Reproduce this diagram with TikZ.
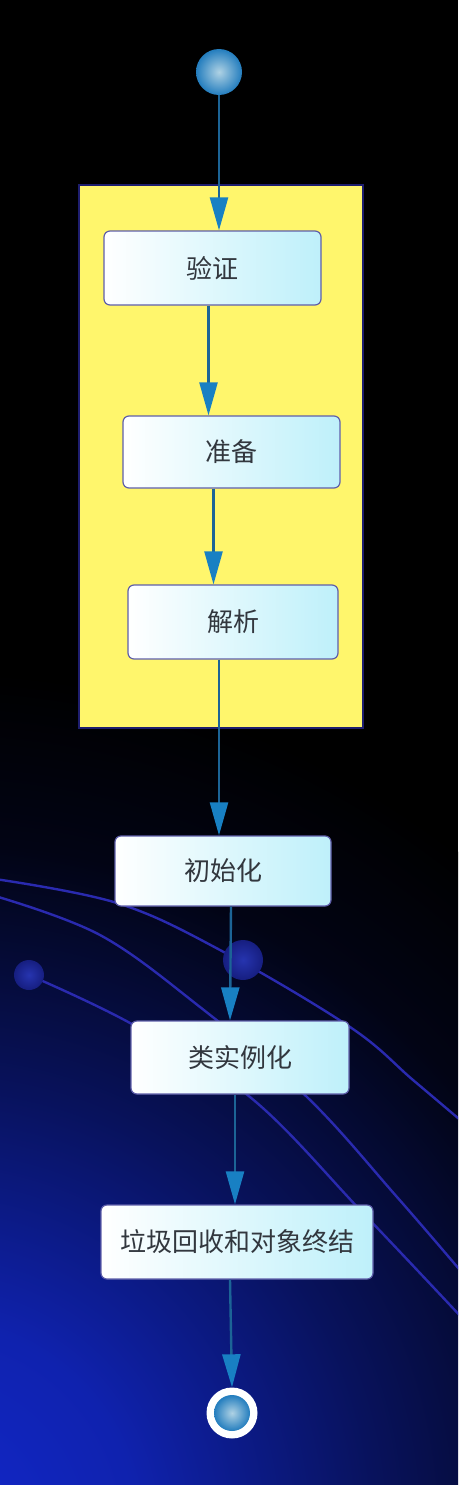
\documentclass[tikz,border=0pt]{standalone}
\usepackage{fontspec}
\newfontfamily\cjk{Noto Sans CJK SC}
\usetikzlibrary{arrows.meta,calc}
\definecolor{glow}{RGB}{18,40,205}
\definecolor{arcblue}{RGB}{42,42,175}
\definecolor{dotin}{RGB}{38,52,175}
\definecolor{dotout}{RGB}{22,30,128}
\definecolor{arrowblue}{RGB}{24,128,195}
\definecolor{lineblue}{RGB}{28,100,150}
\definecolor{boxcyan}{RGB}{190,240,250}
\definecolor{boxedge}{RGB}{95,95,170}
\definecolor{txtgray}{RGB}{50,55,62}
\definecolor{pkgyellow}{RGB}{255,246,108}
\definecolor{pkgedge}{RGB}{30,30,110}
\definecolor{ballin}{RGB}{175,210,228}
\definecolor{ballout}{RGB}{35,125,190}
\pgfdeclareradialshading{glowshade}{\pgfpoint{0bp}{0bp}}{%
  color(0bp)=(glow); color(6bp)=(glow!85!black); color(13bp)=(glow!45!black);
  color(20bp)=(glow!10!black); color(25bp)=(black); color(50bp)=(black)}
\begin{document}
\begin{tikzpicture}[x=1pt,y=-1pt,
  stepbox/.style={draw=boxedge, line width=1.2pt, rounded corners=6pt,
    left color=white, right color=boxcyan, text=txtgray,
    font=\cjk\fontsize{26pt}{30pt}\selectfont, inner sep=0pt, minimum height=73pt},
  flow/.style={draw=lineblue, line width=2.4pt,
    -{Triangle[length=33pt,width=18pt,color=arrowblue]}},
  arcline/.style={draw=arcblue, line width=2.4pt},
  ballnode/.style={circle, inner sep=0pt, inner color=ballin, outer color=ballout}]
\useasboundingbox (0,0) rectangle (458,1485);
% background
\fill[black] (0,0) rectangle (458,1485);
\begin{scope}
  \clip (0,0) rectangle (458,1485);
  \shade[shading=glowshade] (-70,1530) circle (860pt);
  % decorative arcs
  \draw[arcline] plot[smooth, tension=0.6] coordinates {(-5,879) (117,903) (220,950) (350,1027) (413,1080) (465,1124)};
  \draw[arcline] plot[smooth, tension=0.6] coordinates {(-5,896) (100,935) (200,1007) (307,1097) (397,1197) (465,1276)};
  \draw[arcline] plot[smooth, tension=0.6] coordinates {(29,975) (130,1023) (250,1097) (363,1213) (465,1321)};
  \shade[inner color=dotin, outer color=dotout] (243,960) circle (20pt);
  \shade[inner color=dotin, outer color=dotout] (29,975) circle (15pt);
\end{scope}
% package frame
\node (frame) [draw=pkgedge, line width=2.5pt, fill=pkgyellow, minimum width=284pt, minimum height=543pt, inner sep=0pt] at (221,456.5) {};
% start / end
\node (s) [ballnode, minimum size=46pt] at (219,72) {};
\node (e) [circle, fill=white, minimum size=51pt, inner sep=0pt] at (232,1413) {};
\node (ein) [ballnode, minimum size=36pt] at (e.center) {};
% activity boxes
\node (v) [stepbox, minimum width=217pt, minimum height=74pt] at (212.5,268) {验证};
\node (p) [stepbox, minimum width=217pt, minimum height=72pt] at (231.5,452) {准备};
\node (j) [stepbox, minimum width=210pt, minimum height=74pt] at (233,622) {解析};
\node (c) [stepbox, minimum width=216pt, minimum height=70pt] at (223,871) {初始化};
\node (l) [stepbox, minimum width=218pt, minimum height=73pt] at (240,1057.5) {类实例化};
\node (g) [stepbox, minimum width=272pt, minimum height=74pt] at (237,1242) {垃圾回收和对象终结};
% connectors
\draw[flow] (s.south) -- ([xshift=6.5pt]v.north);
\draw[flow] ([xshift=-4pt]v.south) -- ([xshift=-23pt]p.north);
\draw[flow] ([xshift=-18pt]p.south) -- ([xshift=-19.5pt]j.north);
\draw[flow] ([xshift=-14pt]j.south) -- ([xshift=-4pt]c.north);
\draw[flow] ([xshift=8pt]c.south) -- ([xshift=-10pt]l.north);
\draw[flow] ([xshift=-5pt]l.south) -- ([xshift=-2pt]g.north);
\draw[flow] ([xshift=-7pt]g.south) -- (e.north);
\end{tikzpicture}
\end{document}
